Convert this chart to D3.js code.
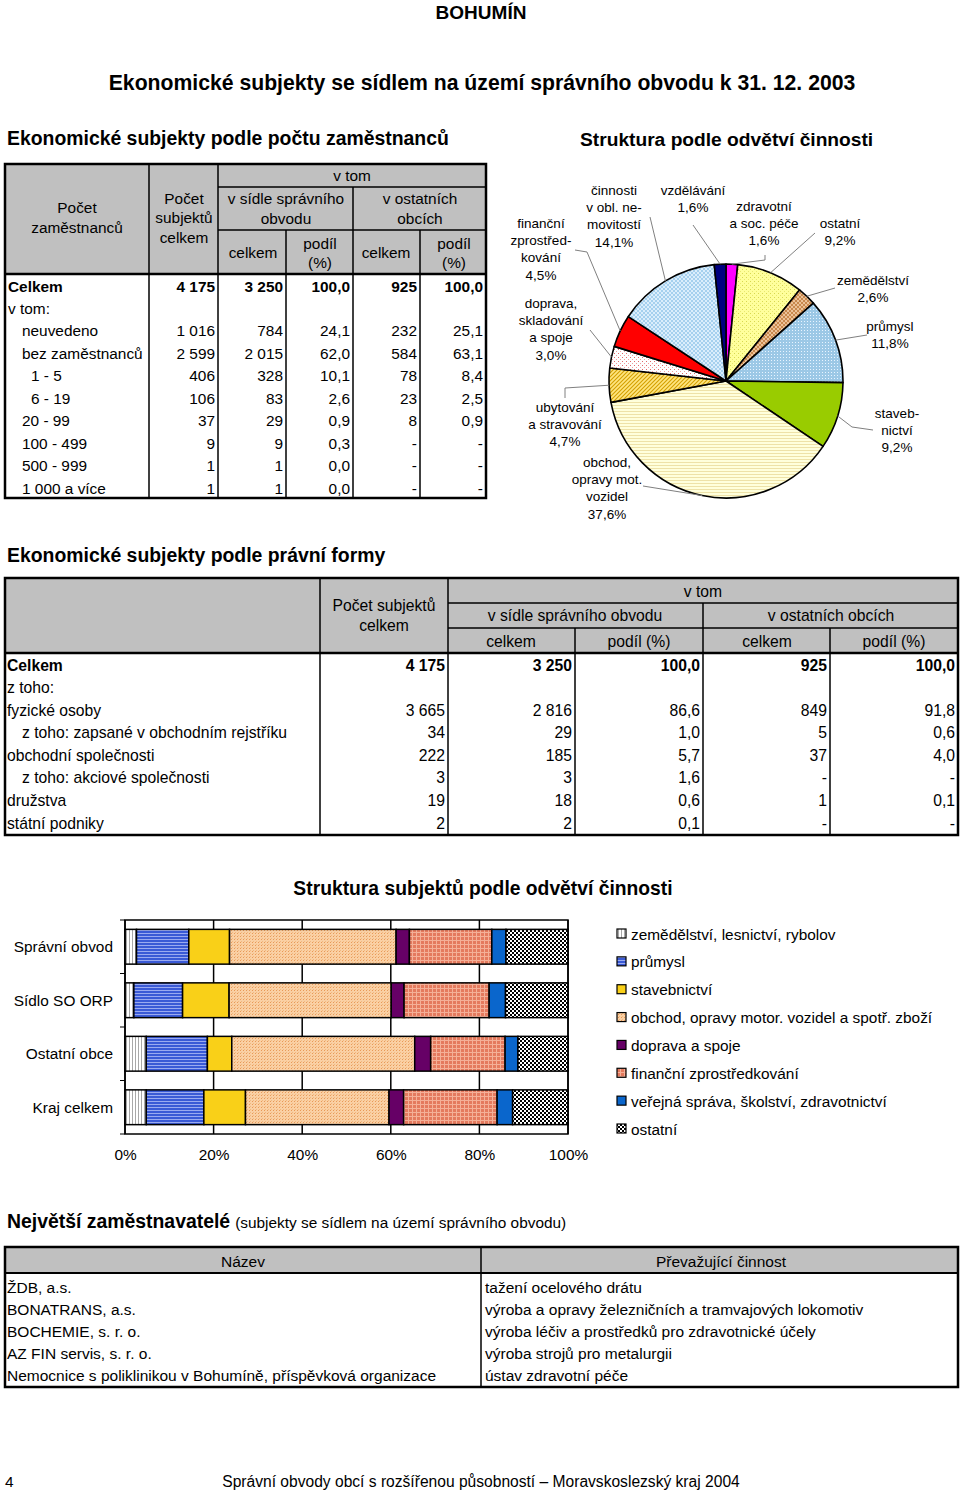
<!DOCTYPE html>
<html><head><meta charset="utf-8">
<script src="https://cdn.jsdelivr.net/npm/d3@7"></script>
<style>
body{margin:0;background:#fff}
svg{display:block}
text{font-family:"Liberation Sans",Arial,sans-serif;fill:#000}
</style>
</head><body>
<svg id="c" width="960" height="1490"></svg>
<script>
// ---------------- DATA ----------------
const pageTitle = "BOHUMÍN";
const mainTitle = "Ekonomické subjekty se sídlem na území správního obvodu k 31. 12. 2003";

// Table 1: by number of employees
const empTitle = "Ekonomické subjekty podle počtu zaměstnanců";
const empLabels = ["Celkem","v tom:","neuvedeno","bez zaměstnanců","1 - 5","6 - 19","20 - 99","100 - 499","500 - 999","1 000 a více"];
const empIndent = [0,0,1,1,2,2,1,1,1,1];
const empTotal = ["4 175","","1 016","2 599","406","106","37","9","1","1"];
const empSeatCount = ["3 250","","784","2 015","328","83","29","9","1","1"];
const empSeatShare = ["100,0","","24,1","62,0","10,1","2,6","0,9","0,3","0,0","0,0"];
const empOtherCount = ["925","","232","584","78","23","8","-","-","-"];
const empOtherShare = ["100,0","","25,1","63,1","8,4","2,5","0,9","-","-","-"];

// Pie: structure by branch
const pieTitle = "Struktura podle odvětví činnosti";
const pieSectors = ["zdravotní a soc. péče","ostatní","zemědělství","průmysl","stavebnictví","obchod, opravy mot. vozidel","ubytování a stravování","doprava, skladování a spoje","finanční zprostředkování","činnosti v obl. nemovitostí","vzdělávání"];
const pieValues = [1.6,9.2,2.6,11.8,9.2,37.6,4.7,3.0,4.5,14.1,1.6];
const pieLabelLines = [["zdravotní","a soc. péče"],["ostatní"],["zemědělství"],["průmysl"],["staveb-","nictví"],["obchod,","opravy mot.","vozidel"],["ubytování","a stravování"],["doprava,","skladování","a spoje"],["finanční","zprostřed-","kování"],["činnosti","v obl. ne-","movitostí"],["vzdělávání"]];

// Table 2: legal form
const legalTitle = "Ekonomické subjekty podle právní formy";
const legalLabels = ["Celkem","z toho:","fyzické osoby","z toho: zapsané v obchodním rejstříku","obchodní společnosti","z toho: akciové společnosti","družstva","státní podniky"];
const legalIndent = [0,0,0,1,0,1,0,0];
const legalTotal = ["4 175","","3 665","34","222","3","19","2"];
const legalSeatCount = ["3 250","","2 816","29","185","3","18","2"];
const legalSeatShare = ["100,0","","86,6","1,0","5,7","1,6","0,6","0,1"];
const legalOtherCount = ["925","","849","5","37","-","1","-"];
const legalOtherShare = ["100,0","","91,8","0,6","4,0","-","0,1","-"];

// Stacked bar chart
const barTitle = "Struktura subjektů podle odvětví činnosti";
const barCategories = ["Správní obvod","Sídlo SO ORP","Ostatní obce","Kraj celkem"];
const barSeries = ["zemědělství, lesnictví, rybolov","průmysl","stavebnictví","obchod, opravy motor. vozidel a spotř. zboží","doprava a spoje","finanční zprostředkování","veřejná správa, školství, zdravotnictví","ostatní"];
const barValues = [
  [2.6,11.8,9.2,37.6,3.0,18.6,3.2,14.0],
  [2.0,11.0,10.5,36.6,2.9,19.2,3.7,14.1],
  [4.8,13.8,5.5,41.3,3.6,16.8,2.9,11.3],
  [4.8,13.0,9.4,32.4,3.3,21.1,3.5,12.5]
];
const barTicks = [0,20,40,60,80,100];

// Table 3: largest employers
const empsTitle = "Největší zaměstnavatelé";
const empsSubtitle = "(subjekty se sídlem na území správního obvodu)";
const employerNames = ["ŽDB, a.s.","BONATRANS, a.s.","BOCHEMIE, s. r. o.","AZ FIN servis, s. r. o.","Nemocnice s poliklinikou v Bohumíně, příspěvková organizace"];
const employerActivities = ["tažení ocelového drátu","výroba a opravy železničních a tramvajových lokomotiv","výroba léčiv a prostředků pro zdravotnické účely","výroba strojů pro metalurgii","ústav zdravotní péče"];

const footerPage = "4";
const footerText = "Správní obvody obcí s rozšířenou působností – Moravskoslezský kraj 2004";

// ---------------- DRAWING ----------------
const svg = d3.select("#c");
const defs = svg.append("defs");
const FS = 15.4;

function pat(id, w, h, bg, draw) {
  const p = defs.append("pattern").attr("id", id).attr("patternUnits", "userSpaceOnUse").attr("width", w).attr("height", h);
  p.append("rect").attr("width", w).attr("height", h).attr("fill", bg);
  if (draw) draw(p);
  return "url(#" + id + ")";
}
function rect(p, x, y, w, h, c) { p.append("rect").attr("x", x).attr("y", y).attr("width", w).attr("height", h).attr("fill", c); }
function pth(p, d, c, sw) { p.append("path").attr("d", d).attr("stroke", c).attr("stroke-width", sw).attr("fill", "none"); }

function txt(x, y, s, opt = {}) {
  return svg.append("text").attr("x", x).attr("y", y).attr("dominant-baseline", "central")
    .attr("text-anchor", opt.anchor || "start").attr("font-size", opt.size || FS)
    .attr("font-weight", opt.bold ? "bold" : "normal").text(s);
}
function ln(x1, y1, x2, y2, w = 1.5, c = "#000") {
  svg.append("line").attr("x1", x1).attr("y1", y1).attr("x2", x2).attr("y2", y2).attr("stroke", c).attr("stroke-width", w);
}

// Titles
txt(481, 12, pageTitle, {anchor: "middle", size: 19, bold: true});
txt(482, 82, mainTitle, {anchor: "middle", size: 21.2, bold: true});
txt(7, 138, empTitle, {size: 19.4, bold: true});
txt(580, 139, pieTitle, {size: 19.2, bold: true});

// ---- Table 1 ----
(function () {
  const x0 = 5, x1 = 486, y0 = 164, yH = 274, y1 = 498;
  const c = [5, 149, 218, 286, 353, 420, 486];
  svg.append("rect").attr("x", x0).attr("y", y0).attr("width", x1 - x0).attr("height", yH - y0).attr("fill", "#C0C0C0");
  ln(c[1], y0, c[1], y1); ln(c[2], y0, c[2], y1);
  ln(c[2], 187, x1, 187); ln(c[2], 230, x1, 230);
  ln(c[4], 187, c[4], y1);
  ln(c[3], 230, c[3], y1); ln(c[5], 230, c[5], y1);
  ln(x0, yH, x1, yH, 2.5);
  svg.append("rect").attr("x", x0).attr("y", y0).attr("width", x1 - x0).attr("height", y1 - y0).attr("fill", "none").attr("stroke", "#000").attr("stroke-width", 2.5);
  txt(77, 207, "Počet", {anchor: "middle"}); txt(77, 227, "zaměstnanců", {anchor: "middle"});
  txt(184, 198, "Počet", {anchor: "middle"}); txt(184, 217, "subjektů", {anchor: "middle"}); txt(184, 237, "celkem", {anchor: "middle"});
  txt(352, 175, "v tom", {anchor: "middle"});
  txt(286, 198, "v sídle správního", {anchor: "middle"}); txt(286, 218, "obvodu", {anchor: "middle"});
  txt(420, 198, "v ostatních", {anchor: "middle"}); txt(420, 218, "obcích", {anchor: "middle"});
  txt(253, 252, "celkem", {anchor: "middle"}); txt(320, 243, "podíl", {anchor: "middle"}); txt(320, 262, "(%)", {anchor: "middle"});
  txt(386, 252, "celkem", {anchor: "middle"}); txt(454, 243, "podíl", {anchor: "middle"}); txt(454, 262, "(%)", {anchor: "middle"});
  const indentX = [8, 22, 31];
  const rowY = d3.scaleLinear().domain([0, empLabels.length - 1]).range([286, 488]);
  const cols = [empTotal, empSeatCount, empSeatShare, empOtherCount, empOtherShare];
  empLabels.forEach((l, i) => {
    const b = i === 0;
    txt(indentX[empIndent[i]], rowY(i), l, {bold: b});
    cols.forEach((col, j) => txt(c[j + 2] - 3, rowY(i), col[i], {anchor: "end", bold: b}));
  });
})();

// ---- Pie ----
(function () {
  const cx = 726, cy = 381, r = 117;
  const fills = [
    "#FF00FF",
    pat("pOst", 4, 4, "#FFFF9C", p => { rect(p, 0, 0, 1, 1, "#D8D850"); rect(p, 2, 2, 1, 1, "#E8E870"); }),
    pat("pZem", 4, 4, "#C8884E", p => pth(p, "M0,0L4,4M4,0L0,4", "#F0C8A0", 0.9)),
    pat("pPru", 3, 3, "#9CC8E6", p => { rect(p, 0, 0, 1, 1, "#E8F4FF"); }),
    "#99CC00",
    pat("pObc", 4, 3, "#FFFFDC", p => rect(p, 0, 0, 4, 1, "#EEE2A8")),
    pat("pUby", 4, 4, "#FFE680", p => pth(p, "M-1,1L1,-1M0,4L4,0M3,5L5,3", "#D4A000", 1.1)),
    pat("pDop", 4, 4, "#FFFFFF", p => { rect(p, 0, 0, 1, 1, "#E06A6A"); rect(p, 2, 2, 1, 1, "#F0A0A0"); }),
    "#FF0000",
    pat("pNem", 4, 4, "#A6D0EE", p => pth(p, "M0,0L4,4M4,0L0,4", "#E8F6FF", 0.8)),
    "#000080"
  ];
  const pie = d3.pie().sort(null).value(d => d)(pieValues);
  const arc = d3.arc().innerRadius(0).outerRadius(r);
  const g = svg.append("g").attr("transform", `translate(${cx},${cy})`);
  g.selectAll("path").data(pie).join("path").attr("d", arc)
    .attr("fill", (d, i) => fills[i]).attr("stroke", "#000").attr("stroke-width", 1.6).attr("stroke-linejoin", "round");

  // label layout: [x, firstLineY] and leader start points
  const labelPos = [[764, 206], [840, 223], [873, 280], [890, 326], [897, 413], [607, 462], [565, 407], [551, 303], [541, 223], [614, 190], [693, 190]];
  const leaderStart = [[[765, 255], [765, 260]], [[815, 233]], [[835, 288]], [[867, 335]], [[873, 430], [852, 427]], [[643, 486]], [[565, 398], [565, 388]], [[590, 330]], [[575, 250], [587, 252]], [[650, 217]], [[693, 225]]];
  const fmt = v => d3.format(".1f")(v).replace(".", ",") + "%";
  pie.forEach((d, i) => {
    const a = (d.startAngle + d.endAngle) / 2;
    const end = [cx + r * Math.sin(a), cy - r * Math.cos(a)];
    const pts = leaderStart[i].concat([end]);
    svg.append("path").attr("d", d3.line()(pts)).attr("fill", "none").attr("stroke", "#808080").attr("stroke-width", 1);
    const lines = pieLabelLines[i].concat([fmt(pieValues[i])]);
    lines.forEach((s, k) => txt(labelPos[i][0], labelPos[i][1] + k * 17.4, s, {anchor: "middle", size: 13.5}));
  });
})();

// ---- Table 2 ----
txt(7, 555, legalTitle, {size: 19.4, bold: true});
(function () {
  const F2 = 15.7;
  const x0 = 5, x1 = 958, y0 = 578, yH = 653, y1 = 835;
  const c = [5, 320, 448, 575, 703, 830, 958];
  svg.append("rect").attr("x", x0).attr("y", y0).attr("width", x1 - x0).attr("height", yH - y0).attr("fill", "#C0C0C0");
  ln(c[1], y0, c[1], y1); ln(c[2], y0, c[2], y1);
  ln(c[2], 603, x1, 603); ln(c[2], 628, x1, 628);
  ln(c[4], 603, c[4], y1);
  ln(c[3], 628, c[3], y1); ln(c[5], 628, c[5], y1);
  ln(x0, yH, x1, yH, 2.5);
  svg.append("rect").attr("x", x0).attr("y", y0).attr("width", x1 - x0).attr("height", y1 - y0).attr("fill", "none").attr("stroke", "#000").attr("stroke-width", 2.5);
  txt(384, 605, "Počet subjektů", {anchor: "middle", size: F2}); txt(384, 625, "celkem", {anchor: "middle", size: F2});
  txt(703, 591, "v tom", {anchor: "middle", size: F2});
  txt(575, 615, "v sídle správního obvodu", {anchor: "middle", size: F2});
  txt(831, 615, "v ostatních obcích", {anchor: "middle", size: F2});
  txt(511, 641, "celkem", {anchor: "middle", size: F2}); txt(639, 641, "podíl (%)", {anchor: "middle", size: F2});
  txt(767, 641, "celkem", {anchor: "middle", size: F2}); txt(894, 641, "podíl (%)", {anchor: "middle", size: F2});
  const rowY = d3.scaleLinear().domain([0, legalLabels.length - 1]).range([665, 823]);
  const cols = [legalTotal, legalSeatCount, legalSeatShare, legalOtherCount, legalOtherShare];
  legalLabels.forEach((l, i) => {
    const b = i === 0;
    txt(legalIndent[i] ? 22 : 7, rowY(i), l, {bold: b, size: F2});
    cols.forEach((col, j) => txt(c[j + 2] - 3, rowY(i), col[i], {anchor: "end", bold: b, size: F2}));
  });
})();

// ---- Stacked bar chart ----
txt(483, 888, barTitle, {anchor: "middle", size: 19.3, bold: true});
(function () {
  const left = 125, right = 568, top = 920, bottom = 1134;
  const x = d3.scaleLinear().domain([0, 100]).range([left, right]);
  const y = d3.scaleBand().domain(barCategories).range([top, bottom]).paddingInner(0.35).paddingOuter(0.175);
  const fills = [
    pat("bAgr", 3, 3, "#FFFFFF", p => rect(p, 0, 0, 1, 3, "#A8A8A8")),
    pat("bInd", 3, 3, "#3A5AD6", p => rect(p, 0, 0, 3, 1, "#9AAAF0")),
    "#F9D018",
    pat("bTrd", 3, 3, "#FAD0A4", p => { rect(p, 0, 0, 1, 1, "#E89A58"); rect(p, 1, 2, 1, 1, "#F0B880"); }),
    "#660066",
    pat("bFin", 4, 4, "#E47A5E", p => { rect(p, 0, 0, 1, 4, "#F4B098"); rect(p, 0, 0, 4, 1, "#F4B098"); }),
    "#0A66CC",
    pat("bOth", 4, 4, "#FFFFFF", p => { rect(p, 0, 0, 2, 2, "#000"); rect(p, 2, 2, 2, 2, "#000"); })
  ];
  // gridlines
  svg.append("g").selectAll("line").data(barTicks).join("line")
    .attr("x1", d => x(d)).attr("x2", d => x(d)).attr("y1", top).attr("y2", bottom)
    .attr("stroke", "#000").attr("stroke-width", 1.5);
  const rows = barCategories.map((cat, i) => {
    const o = {cat};
    barSeries.forEach((s, j) => o[s] = barValues[i][j]);
    return o;
  });
  const stack = d3.stack().keys(barSeries)(rows);
  svg.append("g").selectAll("g").data(stack).join("g").attr("fill", (d, i) => fills[i])
    .selectAll("rect").data(d => d).join("rect")
    .attr("x", d => x(d[0])).attr("width", d => x(d[1]) - x(d[0]))
    .attr("y", d => y(d.data.cat)).attr("height", y.bandwidth())
    .attr("stroke", "#000").attr("stroke-width", 1.5);
  svg.append("rect").attr("x", left).attr("y", top).attr("width", right - left).attr("height", bottom - top)
    .attr("fill", "none").attr("stroke", "#000").attr("stroke-width", 1.5);
  // y axis ticks and labels
  const step = y.step();
  d3.range(barCategories.length + 1).forEach(k => ln(left - 5, top + k * step, left, top + k * step, 1, "#000"));
  barCategories.forEach(cat => txt(113, y(cat) + y.bandwidth() / 2, cat, {anchor: "end"}));
  // x axis labels
  const ax = svg.append("g").attr("transform", `translate(0,${bottom})`)
    .call(d3.axisBottom(x).tickValues(barTicks).tickFormat(d => d + "%").tickSize(0).tickPadding(15));
  ax.select(".domain").remove();
  ax.selectAll("text").attr("font-size", FS).attr("font-family", '"Liberation Sans",Arial,sans-serif').attr("fill", "#000");
  // legend
  const ly = d3.scaleLinear().domain([0, barSeries.length - 1]).range([934, 1129]);
  barSeries.forEach((s, i) => {
    svg.append("rect").attr("x", 617).attr("y", ly(i) - 5).attr("width", 9).attr("height", 9)
      .attr("fill", fills[i]).attr("stroke", "#000").attr("stroke-width", 1.2);
    txt(631, ly(i), s);
  });
})();

// ---- Table 3 ----
(function () {
  const t = txt(7, 1221, empsTitle, {size: 19.4, bold: true});
  const w = t.node().getComputedTextLength();
  txt(7 + w + 5, 1222, empsSubtitle, {size: 15.4});
  const x0 = 5, x1 = 958, y0 = 1247, yH = 1273, y1 = 1387, cm = 481;
  svg.append("rect").attr("x", x0).attr("y", y0).attr("width", x1 - x0).attr("height", yH - y0).attr("fill", "#C0C0C0");
  ln(cm, y0, cm, y1);
  ln(x0, yH, x1, yH, 2);
  svg.append("rect").attr("x", x0).attr("y", y0).attr("width", x1 - x0).attr("height", y1 - y0).attr("fill", "none").attr("stroke", "#000").attr("stroke-width", 2.5);
  txt(243, 1261, "Název", {anchor: "middle", size: 15.5});
  txt(721, 1261, "Převažující činnost", {anchor: "middle", size: 15.5});
  const rowY = d3.scaleLinear().domain([0, employerNames.length - 1]).range([1287, 1375]);
  employerNames.forEach((n, i) => {
    txt(7, rowY(i), n, {size: 15.5});
    txt(485, rowY(i), employerActivities[i], {size: 15.5});
  });
})();

// Footer
txt(5, 1481, footerPage, {size: FS});
txt(481, 1481, footerText, {anchor: "middle", size: 15.6});
</script>
</body></html>
